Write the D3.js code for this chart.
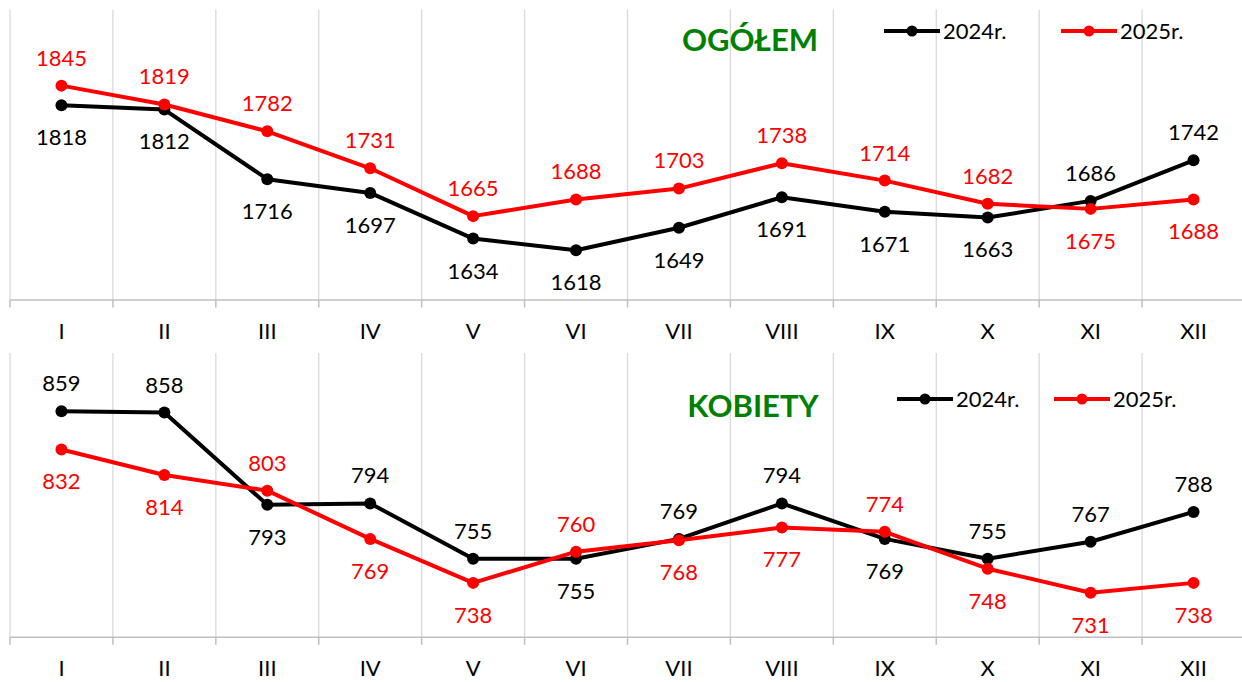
<!DOCTYPE html>
<html>
<head>
<meta charset="utf-8">
<script src="https://cdn.jsdelivr.net/npm/d3@7"></script>
<style>
  body { margin: 0; background: #fff; }
  svg { display: block; font-family: Lato, "Open Sans", sans-serif; }
</style>
</head>
<body>
<svg id="chart" width="1242" height="682"></svg>
<script>
// months (roman numerals)
const months = ['I', 'II', 'III', 'IV', 'V', 'VI', 'VII', 'VIII', 'IX', 'X', 'XI', 'XII'];

// OGÓŁEM
const total2024 = [1818, 1812, 1716, 1697, 1634, 1618, 1649, 1691, 1671, 1663, 1686, 1742];
const total2025 = [1845, 1819, 1782, 1731, 1665, 1688, 1703, 1738, 1714, 1682, 1675, 1688];
// label side: 1 = above point, -1 = below
const total2024Side = [-1, -1, -1, -1, -1, -1, -1, -1, -1, -1, 1, 1];
const total2025Side = [1, 1, 1, 1, 1, 1, 1, 1, 1, 1, -1, -1];

// KOBIETY
const women2024 = [859, 858, 793, 794, 755, 755, 769, 794, 769, 755, 767, 788];
const women2025 = [832, 814, 803, 769, 738, 760, 768, 777, 774, 748, 731, 738];
const women2024Side = [1, 1, -1, 1, 1, -1, 1, 1, -1, 1, 1, 1];
const women2025Side = [-1, -1, 1, -1, -1, 1, -1, -1, 1, -1, -1, -1];

const seriesNames = ['2024r.', '2025r.'];
const colors = ['#000000', '#ff0000'];

const svg = d3.select('#chart');

function drawPanel(cfg) {
    const g = svg.append('g');

    const x = d3.scaleBand()
        .domain(months)
        .range([10, 1245]);

    const y = d3.scaleLinear()
        .domain(cfg.domain)
        .range([cfg.bottom, cfg.top]);

    // vertical gridlines at category boundaries
    const bounds = months.map(m => x(m)).concat([x.range()[1]]);
    g.selectAll('line.grid')
      .data(bounds)
      .enter()
      .append('line')
      .attr('x1', d => d).attr('x2', d => d)
      .attr('y1', cfg.top).attr('y2', cfg.bottom)
      .attr('stroke', '#d9d9d9')
      .attr('stroke-width', 1.3);

    // x axis
    const axis = g.append('g')
        .attr('transform', `translate(0,${cfg.bottom})`)
        .call(d3.axisBottom(x).tickSize(0).tickPadding(24));
    axis.select('.domain').attr('stroke', '#bfbfbf').attr('stroke-width', 1.5);
    axis.selectAll('text')
        .attr('font-size', 22)
        .attr('font-family', 'Lato, sans-serif')
        .attr('fill', '#000');
    g.selectAll('line.tickmark')
      .data(bounds)
      .enter()
      .append('line')
      .attr('x1', d => d).attr('x2', d => d)
      .attr('y1', cfg.bottom).attr('y2', cfg.bottom + 8)
      .attr('stroke', '#bfbfbf')
      .attr('stroke-width', 1.5);

    const line = d3.line()
        .x((d, i) => x(months[i]) + x.bandwidth() / 2)
        .y(d => y(d));

    cfg.series.forEach((s, k) => {
        g.append('path')
          .datum(s.values)
          .attr('fill', 'none')
          .attr('stroke', colors[k])
          .attr('stroke-width', 4)
          .attr('stroke-linejoin', 'round')
          .attr('d', line);

        g.selectAll(null)
          .data(s.values)
          .enter()
          .append('circle')
          .attr('cx', (d, i) => x(months[i]) + x.bandwidth() / 2)
          .attr('cy', d => y(d))
          .attr('r', 6)
          .attr('fill', colors[k]);
    });

    // data labels drawn after all lines
    cfg.series.forEach((s, k) => {
        g.selectAll(null)
          .data(s.values)
          .enter()
          .append('text')
          .attr('x', (d, i) => x(months[i]) + x.bandwidth() / 2)
          .attr('y', (d, i) => y(d) + (s.side[i] > 0 ? -28 : 32))
          .attr('dy', '0.36em')
          .attr('text-anchor', 'middle')
          .attr('font-size', 22)
          .attr('fill', colors[k])
          .text(d => d);
    });

    // title
    g.append('text')
      .attr('x', cfg.titleX)
      .attr('y', cfg.titleY)
      .attr('dy', '0.36em')
      .attr('text-anchor', 'middle')
      .attr('font-size', 31)
      .attr('font-weight', 'bold')
      .attr('fill', '#008000')
      .text(cfg.title);

    // legend
    cfg.legend.forEach((lx, k) => {
        const lg = g.append('g').attr('transform', `translate(${lx},${cfg.legendY})`);
        lg.append('line')
          .attr('x1', 0).attr('x2', 56)
          .attr('stroke', colors[k])
          .attr('stroke-width', 4);
        lg.append('circle')
          .attr('cx', 28).attr('r', 5.5)
          .attr('fill', colors[k]);
        lg.append('text')
          .attr('x', 59)
          .attr('dy', '0.36em')
          .attr('font-size', 22)
          .attr('fill', '#000')
          .text(seriesNames[k]);
    });
}

drawPanel({
    domain: [1550, 1950],
    top: 9.5, bottom: 299.5,
    title: 'OGÓŁEM', titleX: 750, titleY: 40,
    legendY: 31, legend: [884, 1061],
    series: [
        {values: total2024, side: total2024Side},
        {values: total2025, side: total2025Side}
    ]
});

drawPanel({
    domain: [700, 900],
    top: 353, bottom: 636.8,
    title: 'KOBIETY', titleX: 753, titleY: 406,
    legendY: 399, legend: [897, 1054],
    series: [
        {values: women2024, side: women2024Side},
        {values: women2025, side: women2025Side}
    ]
});
</script>
</body>
</html>
